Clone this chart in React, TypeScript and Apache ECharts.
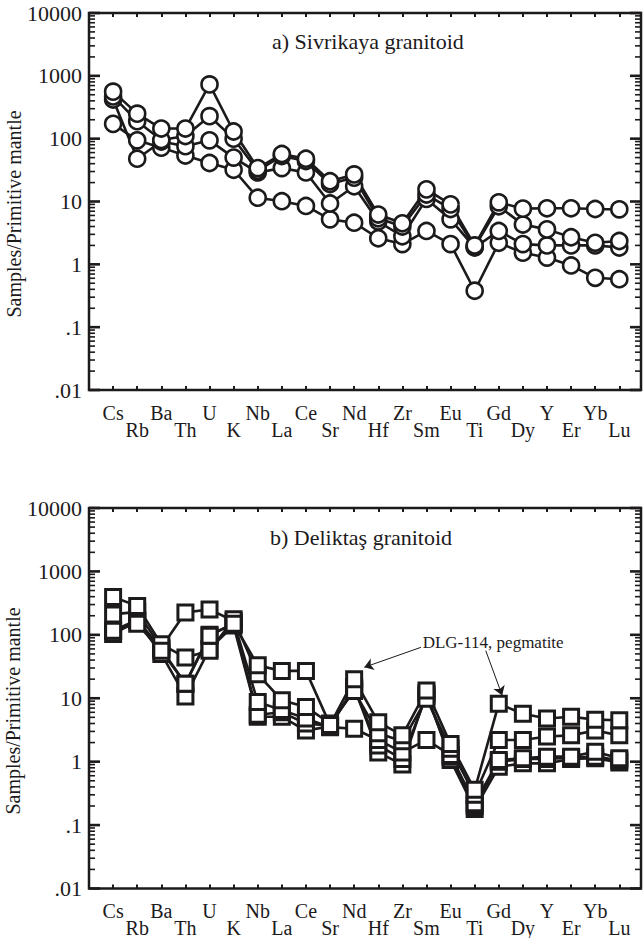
import React, { useEffect, useRef } from "react";
import * as echarts from "echarts";

const ELEMENTS = ["Cs","Rb","Ba","Th","U","K","Nb","La","Ce","Sr","Nd","Hf","Zr","Sm","Eu","Ti","Gd","Dy","Y","Er","Yb","Lu"];

// a) Sivrikaya granitoid
const SIV_A = [560, 250, 145, 145, 730, 130, 34, 57, 48, 21, 27, 6.2, 4.5, 15.6, 9.0, 2.0, 9.7, 7.7, 7.8, 7.8, 7.6, 7.5];
const SIV_B = [470, 190, 95, 110, 228, 100, 31, 53, 44, 19, 24, 5.4, 4.0, 12.9, 7.6, 1.9, 8.4, 4.3, 3.6, 2.7, 2.2, 2.35];
const SIV_C = [420, 48, 90, 76, 94, 50, 29, 34, 29, 9.3, 17.5, 4.8, 2.8, 11.0, 5.2, 1.85, 3.4, 2.1, 2.0, 2.0, 2.0, 1.85];
const SIV_D = [172, 94, 72, 54, 41, 32, 11.5, 10.1, 8.5, 5.2, 4.6, 2.6, 2.1, 3.4, 2.1, 0.38, 2.2, 1.53, 1.28, 0.96, 0.61, 0.58];

// b) Deliktaş granitoid
const DEL_PEG = [116, 150, 56, 17, 97, 150, 33, 27, 27, 3.8, 20, 4.2, 2.6, 13.3, 1.9, 0.36, 8.2, 5.7, 4.8, 5.1, 4.6, 4.5];
const DEL_B = [395, 286, 71, 44, 56, 176, 24, 9.3, 7.3, 4.0, 13, 2.8, 2.1, 9.8, 1.6, 0.3, 2.2, 2.2, 2.5, 2.6, 3.1, 2.6];
const DEL_C = [210, 230, 63, 225, 252, 165, 8.7, 6.5, 4.8, 3.5, 3.3, 2.2, 1.4, 2.2, 1.27, 0.22, 1.06, 1.13, 1.2, 1.2, 1.43, 1.13];
const DEL_D = [103, 166, 50, 10.7, 60, 140, 5.1, 5.1, 3.1, 3.6, 15, 1.4, 0.9, 12, 1.06, 0.18, 0.83, 0.94, 0.94, 1.1, 1.13, 0.97];
const DEL_E = [116, 172, 60, 17, 100, 150, 5.5, 6.0, 4.0, 3.7, 14, 1.8, 1.1, 11, 1.2, 0.2, 1.0, 1.1, 1.1, 1.15, 1.2, 1.05];

const Y_LABELS: Record<string, string> = { "-2": ".01", "-1": ".1", "0": "1", "1": "10", "2": "100", "3": "1000", "4": "10000" };
const TITLE_A = "a) Sivrikaya granitoid";
const TITLE_B = "b) Deliktaş granitoid";
const Y_NAME = "Samples/Primitive mantle";
const PEG_NOTE = "DLG-114, pegmatite";
// arrow endpoints in data coordinates [element index, value]
const ARROWS = [
  [[12.77, 63.5], [10.42, 30.8]],
  [[15.46, 56.3], [16.14, 11.1]],
];
const NOTE_POS = [12.82, 76];

const X_MIN = -1;
const X_MAX = 21.9;
const INK = "#1c1a1b";
const FONT = "Liberation Serif, Times New Roman, serif";

function tickData() {
  const out: number[][] = [];
  for (let e = -2; e <= 4; e++) {
    out.push([X_MIN, Math.pow(10, e), 1]);
    if (e < 4) for (let k = 2; k <= 9; k++) out.push([X_MIN, k * Math.pow(10, e), 0]);
  }
  return out;
}

export default function App() {
  const ref = useRef<HTMLDivElement>(null);
  useEffect(() => {
    if (!ref.current) return;
    const chart = echarts.init(ref.current, null, { renderer: "svg" });
    const grids = [
      { left: 89, top: 13, width: 553, height: 377 },
      { left: 89, top: 508, width: 553, height: 384 },
    ];
    const xAxes: any[] = [];
    const yAxes: any[] = [];
    grids.forEach((_, g) => {
      xAxes.push({
        gridIndex: g, type: "value", min: X_MIN, max: X_MAX, interval: 1, position: "bottom",
        axisLine: { show: false }, splitLine: { show: false },
        axisTick: { inside: true, length: 4, lineStyle: { width: 2, color: INK } },
        axisLabel: {
          margin: 14, fontSize: 20, lineHeight: 17, color: INK, fontFamily: FONT,
          formatter: (v: number) => {
            const i = Math.round(v);
            if (Math.abs(v - i) > 0.01 || i < 0 || i >= ELEMENTS.length) return "";
            return i % 2 === 0 ? ELEMENTS[i] : "\n" + ELEMENTS[i];
          },
        },
      });
      xAxes.push({
        gridIndex: g, type: "value", min: X_MIN, max: X_MAX, interval: 1, position: "top",
        axisLine: { show: false }, splitLine: { show: false },
        axisTick: { inside: true, length: 4, lineStyle: { width: 2, color: INK } },
        axisLabel: { show: false },
      });
      yAxes.push({
        gridIndex: g, type: "log", logBase: 10, min: 0.01, max: 10000, interval: 1,
        axisLine: { show: false }, splitLine: { show: false }, axisTick: { show: false },
        axisLabel: {
          margin: 7, fontSize: 22, color: INK, fontFamily: FONT,
          formatter: (v: number) => Y_LABELS[String(Math.round(Math.log10(v)))] ?? "",
        },
      });
    });

    const lineSeries = (data: number[], g: number, symbol: string, size: number, extra: any = {}) => ({
      type: "line",
      xAxisIndex: g * 2, yAxisIndex: g,
      data: data.map((v, i) => [i, v]),
      symbol, symbolSize: size, showAllSymbol: true,
      lineStyle: { width: 2.6, color: INK },
      itemStyle: { color: "#fff", borderColor: INK, borderWidth: g === 0 ? 2.6 : 3 },
      z: 3,
      ...extra,
    });

    const tickSeries = (g: number) => ({
      type: "custom",
      xAxisIndex: g * 2, yAxisIndex: g,
      silent: true, clip: false, z: 4,
      encode: { x: 0, y: 1 },
      data: tickData(),
      renderItem: (_p: any, api: any) => {
        const v = api.value(1);
        const major = api.value(2) === 1;
        const L = api.coord([X_MIN, v]);
        const R = api.coord([X_MAX, v]);
        const len = major ? 11 : 6;
        const w = major ? 2.6 : 1.6;
        const style = { stroke: INK, lineWidth: w };
        return {
          type: "group",
          children: [
            { type: "line", shape: { x1: L[0], y1: L[1], x2: L[0] + len, y2: L[1] }, style },
            { type: "line", shape: { x1: R[0], y1: R[1], x2: R[0] - len, y2: R[1] }, style },
          ],
        };
      },
    });

    const txt = (text: string, size: number, extra: any = {}) => ({
      text, fontSize: size, fontFamily: FONT, fill: INK, verticalAlign: "middle", ...extra,
    });

    const option: any = {
      animation: false,
      textStyle: { fontFamily: FONT, color: INK },
      grid: grids.map((g) => ({ ...g, show: true, borderColor: INK, borderWidth: 2.5, backgroundColor: "transparent" })),
      xAxis: xAxes,
      yAxis: yAxes,
      graphic: [
        { type: "text", x: 272, y: 41.5, style: txt(TITLE_A, 22) },
        { type: "text", x: 270, y: 537, style: txt(TITLE_B, 22) },
        { type: "text", x: 14, y: 214, rotation: Math.PI / 2, style: txt(Y_NAME, 20, { align: "center" }) },
        { type: "text", x: 13, y: 711, rotation: Math.PI / 2, style: txt(Y_NAME, 20, { align: "center" }) },
      ],
      series: [
        tickSeries(0),
        tickSeries(1),
        lineSeries(SIV_D, 0, "circle", 16),
        lineSeries(SIV_C, 0, "circle", 16),
        lineSeries(SIV_B, 0, "circle", 16),
        lineSeries(SIV_A, 0, "circle", 16),
        lineSeries(DEL_D, 1, "rect", 15),
        lineSeries(DEL_E, 1, "rect", 15),
        lineSeries(DEL_C, 1, "rect", 15),
        lineSeries(DEL_B, 1, "rect", 15),
        lineSeries(DEL_PEG, 1, "rect", 15, {
          markLine: {
            silent: true, symbol: ["none", "arrow"], symbolSize: 9, animation: false,
            lineStyle: { type: "solid", width: 1, color: INK },
            itemStyle: { color: INK },
            label: { show: false },
            emphasis: { disabled: true },
            data: ARROWS.map(([a, b]) => [{ coord: a }, { coord: b }]),
          },
          markPoint: {
            silent: true, symbol: "circle", symbolSize: 1, animation: false,
            itemStyle: { color: "rgba(0,0,0,0)" },
            label: { show: true, position: "right", distance: 0, formatter: PEG_NOTE, fontSize: 17, fontFamily: FONT, color: INK },
            data: [{ coord: NOTE_POS }],
          },
        }),
      ],
    };
    chart.setOption(option);
    return () => chart.dispose();
  }, []);
  return <div ref={ref} style={{ position: "absolute", left: 0, top: 0, width: 644, height: 938 }} />;
}
